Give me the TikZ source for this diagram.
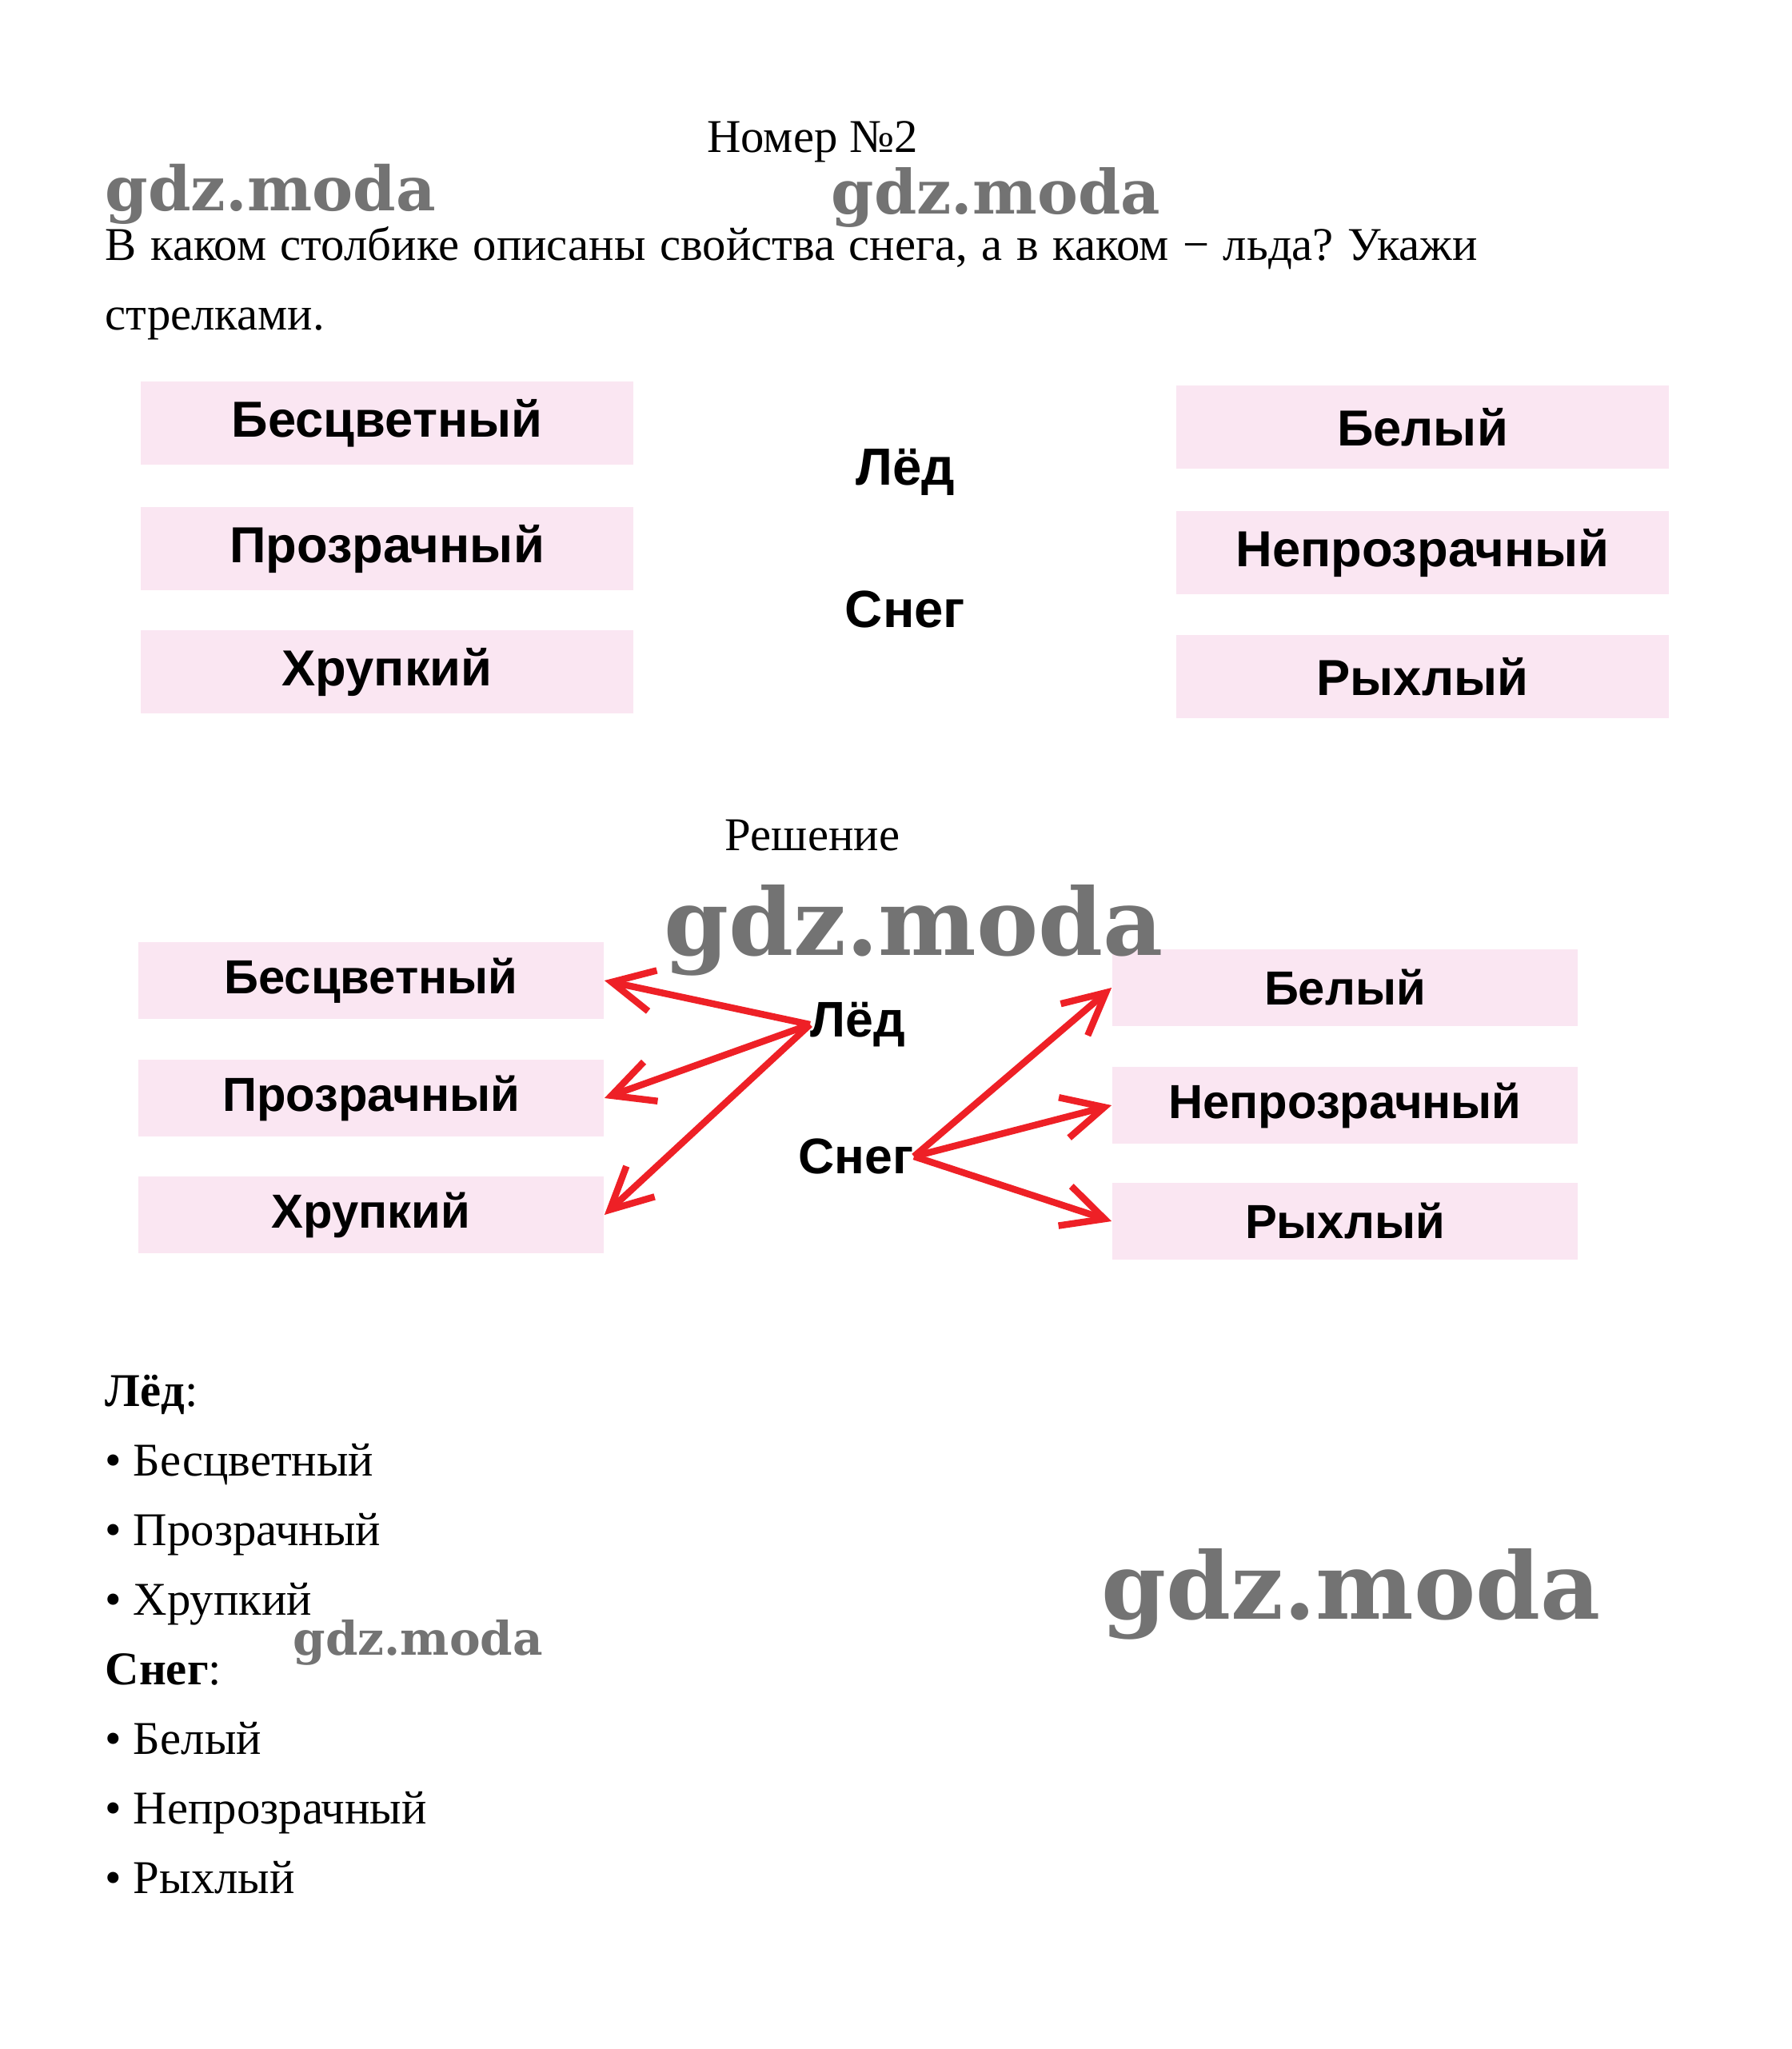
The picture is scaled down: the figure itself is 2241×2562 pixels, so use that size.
\documentclass[tikz,border=0pt]{standalone}
\usepackage{fontspec}
\setmainfont{Liberation Serif}
\newfontfamily\labelfont{Liberation Sans}
\newfontfamily\markfont{DejaVu Serif}
\usepackage{graphicx}
\usetikzlibrary{arrows.meta}
\usetikzlibrary{positioning}
\frenchspacing

\definecolor{boxpink}{RGB}{250,230,242}
\definecolor{arrowred}{RGB}{238,32,38}
\definecolor{markgray}{RGB}{115,115,115}

\tikzset{
  txt/.style={inner sep=0pt, anchor=base west, font=\fontsize{16.7}{20}\selectfont},
  prop/.style={fill=boxpink, inner sep=0pt, minimum width=6.16cm, minimum height=1.03cm,
    font=\labelfont\bfseries\fontsize{18}{20}\selectfont},
  propsmall/.style={prop, minimum width=5.82cm, minimum height=0.96cm,
    font=\labelfont\bfseries\fontsize{17}{20}\selectfont},
  word/.style={inner sep=0pt, font=\labelfont\bfseries\fontsize{18.6}{20}\selectfont},
  wordsmall/.style={word, font=\labelfont\bfseries\fontsize{17.8}{20}\selectfont},
  link/.style={draw=arrowred, line width=2.4pt, -{Straight Barb[length=5.2mm,width=5.2mm]}},
  wmark/.style={inner sep=0pt, anchor=north west, text=markgray, font=\markfont\bfseries},
}

\begin{document}
\begin{tikzpicture}[x=0.01cm, y=-0.01cm]
  \useasboundingbox (0,0) rectangle (2241,2562);

  % task text
  \node[txt, anchor=base] (title) at (1016,190) {Номер №2};
  \node[txt] (q_1) at (131,325)
    {\makebox[17.15cm][s]{В каком столбике описаны свойства снега, а в каком − льда? Укажи}};
  \node[txt] (q_2) at (131,412) {стрелками.};

  % the task: two columns
  \node[prop] (tl_1) at (484,529) {Бесцветный};
  \node[prop] (tl_2) at (484,686) {Прозрачный};
  \node[prop] (tl_3) at (484,840) {Хрупкий};
  \node[prop] (tr_1) at (1779,534) {Белый};
  \node[prop] (tr_2) at (1779,691) {Непрозрачный};
  \node[prop] (tr_3) at (1779,846) {Рыхлый};
  \node[word] (led_t) at (1132,590) {Лёд};
  \node[word] (sneg_t) at (1132,762) {Снег};

  \node[txt, anchor=base] (sol) at (1016,1063) {Решение};

  % the answer
  \node[propsmall] (bl_1) at (464,1226) {Бесцветный};
  \node[propsmall] (bl_2) at (464,1373) {Прозрачный};
  \node[propsmall] (bl_3) at (464,1519) {Хрупкий};
  \node[propsmall] (br_1) at (1682,1235) {Белый};
  \node[propsmall] (br_2) at (1682,1382) {Непрозрачный};
  \node[propsmall] (br_3) at (1682,1527) {Рыхлый};
  \node[wordsmall, anchor=west] (led_b) at (1013,1281) {Лёд};
  \node[wordsmall, anchor=east] (sneg_b) at (1143,1446) {Снег};

  \path
    (led_b.west) edge[link] (bl_1.east)
    (led_b.west) edge[link] (bl_2.east)
    (led_b.west) edge[link] (bl_3.east)
    (sneg_b.east) edge[link] (br_1.west)
    (sneg_b.east) edge[link] (br_2.west)
    (sneg_b.east) edge[link] (br_3.west);

  % written answer
  \node[txt] (a_0) at (131,1758) {\textbf{Лёд}:};
  \node[txt] (a_1) at (131,1845) {• Бесцветный};
  \node[txt] (a_2) at (131,1932) {• Прозрачный};
  \node[txt] (a_3) at (131,2019) {• Хрупкий};
  \node[txt] (a_4) at (131,2106) {\textbf{Снег}:};
  \node[txt] (a_5) at (131,2193) {• Белый};
  \node[txt] (a_6) at (131,2280) {• Непрозрачный};
  \node[txt] (a_7) at (131,2367) {• Рыхлый};

  % watermarks
  \node[wmark] (w_1) at (131,204) {\resizebox{4.13cm}{!}{gdz.moda}};
  \node[wmark] (w_2) at (1039,209) {\resizebox{4.11cm}{!}{gdz.moda}};
  \node[wmark] (w_3) at (830,1106) {\resizebox{6.24cm}{!}{gdz.moda}};
  \node[wmark] (w_4) at (366,2025) {\resizebox{3.12cm}{!}{gdz.moda}};
  \node[wmark] (w_5) at (1377,1936) {\resizebox{6.24cm}{!}{gdz.moda}};
\end{tikzpicture}
\end{document}
